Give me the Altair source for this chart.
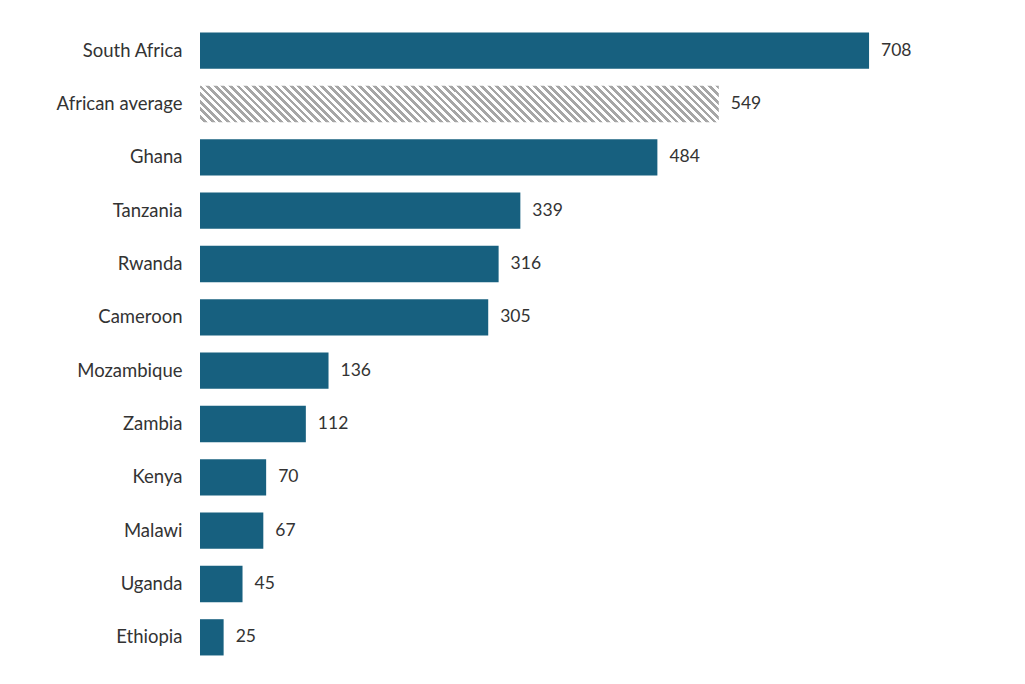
import altair as alt
import pandas as pd

countries = ['South Africa', 'African average', 'Ghana', 'Tanzania', 'Rwanda', 'Cameroon',
             'Mozambique', 'Zambia', 'Kenya', 'Malawi', 'Uganda', 'Ethiopia']
values = [708, 549, 484, 339, 316, 305, 136, 112, 70, 67, 45, 25]
average_label = 'African average'

df = pd.DataFrame({'country': countries, 'value': values})

# diagonal hatch built from a striped linear gradient (stripes run top-left to bottom-right)
bar_w, bar_h, period = 519.0, 36.3, 7.5
r = bar_h / bar_w
k = (1 + r) / (1 + r * r)
n = int(bar_w * k / period)
stops = []
for i in range(n):
    a = i / n
    b = (i + 0.5) / n
    c = (i + 1) / n
    stops += [alt.GradientStop(color='#ffffff', offset=a), alt.GradientStop(color='#ffffff', offset=b),
              alt.GradientStop(color='#a6a6a6', offset=b), alt.GradientStop(color='#a6a6a6', offset=c)]
hatch = alt.Gradient(gradient='linear', stops=stops, x1=0, y1=1, x2=k, y2=1 - k * r)

y_enc = alt.Y('country:N', sort=countries, title=None,
              scale=alt.Scale(paddingInner=0.32, paddingOuter=0.16),
              axis=alt.Axis(domain=False, ticks=False, labelPadding=18, labelFontSize=18.5,
                            labelFont='Lato', labelColor='#333333'))
x_enc = alt.X('value:Q', axis=None, scale=alt.Scale(domain=[0, 800]))

base = alt.Chart(df).encode(y=y_enc, x=x_enc)

solid = base.mark_bar(color='#17607f').transform_filter(alt.datum.country != average_label)
hatched = base.mark_bar(color=hatch).transform_filter(alt.datum.country == average_label)
labels = base.mark_text(align='left', dx=12, fontSize=17.5, font='Lato', color='#333333').encode(
    text='value:Q')

chart = (solid + hatched + labels).properties(
    width=756, height=640,
    autosize=alt.AutoSizeParams(type='none'),
    padding={'left': 192, 'top': 16, 'right': 0, 'bottom': 0},
).configure_view(stroke=None)

chart.save("out.html", embed_options={"renderer": "svg", "actions": False})
